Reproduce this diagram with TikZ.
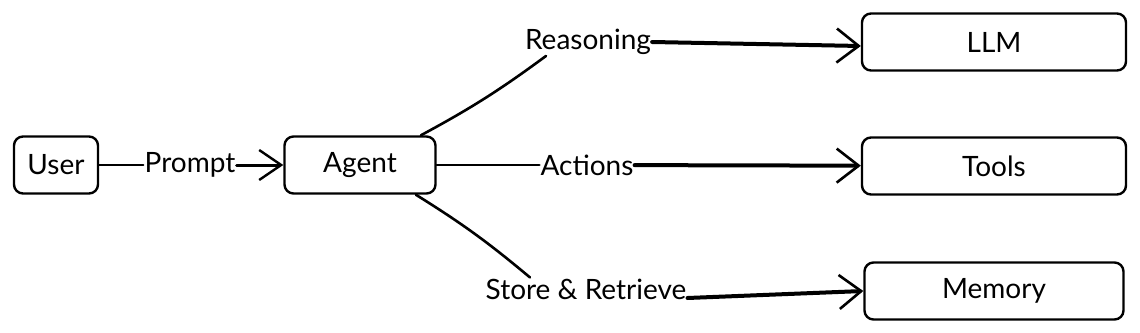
\documentclass[tikz,border=0pt]{standalone}
\usepackage{fontspec}
\setmainfont{Lato}
\usepackage{tikz}
\usetikzlibrary{arrows.meta}
\tikzset{
	box/.style={draw, line width=2.4pt, rounded corners=9pt, minimum height=57pt, font=\fontsize{28}{32}\selectfont}
}
\tikzset{
	linktext/.style={font=\fontsize{28}{32}\selectfont, inner sep=1pt}
}
\tikzset{
	thinline/.style={line width=2.6pt},
	thickarrow/.style={line width=4pt, -{Straight Barb[length=22pt, width=34pt, line width=2.6pt]}}
}

\begin{document}
\begin{tikzpicture}[x=1pt, y=-1pt, line cap=round]
      \useasboundingbox (0,0) rectangle (1140,332);
      % boxes
      \node[box, minimum width=84pt] (user) at (56,165) {User};
      \node[box, minimum width=151pt] (agent) at (360,165) {Agent};
      \node[box, minimum width=264pt] (llm) at (994,42) {LLM};
      \node[box, minimum width=264pt] (tools) at (994,166) {Tools};
      \node[box, minimum width=259pt] (memory) at (994,291) {Memory};
      % labels on the links
      \node[linktext] (prompt) at (190,165) {Prompt};
      \node[linktext] (reasoning) at (588,42) {Reasoning};
      \node[linktext] (actions) at (587,165) {Actions};
      \node[linktext] (store) at (586,289) {Store \& Retrieve};
      % links
      \draw[line width=2pt] (user) -- (prompt);
      \draw[line width=3pt, -{Straight Barb[length=22pt, width=30pt, line width=2.4pt]}] (prompt) -- (agent);
      \draw[thinline] (agent.26) to[bend right=4] ([xshift=-42pt]reasoning.south);
      \draw[thickarrow] (reasoning.east) -- ([yshift=-4pt]llm.west);
      \draw[thinline] (agent) -- (actions);
      \draw[thickarrow] (actions) -- (tools);
      \draw[thinline] (agent.-28) to[bend left=4] ([xshift=-56pt]store.north);
      \draw[thickarrow] ([yshift=-9pt]store.east) -- (memory.west);
    \end{tikzpicture}
\end{document}
